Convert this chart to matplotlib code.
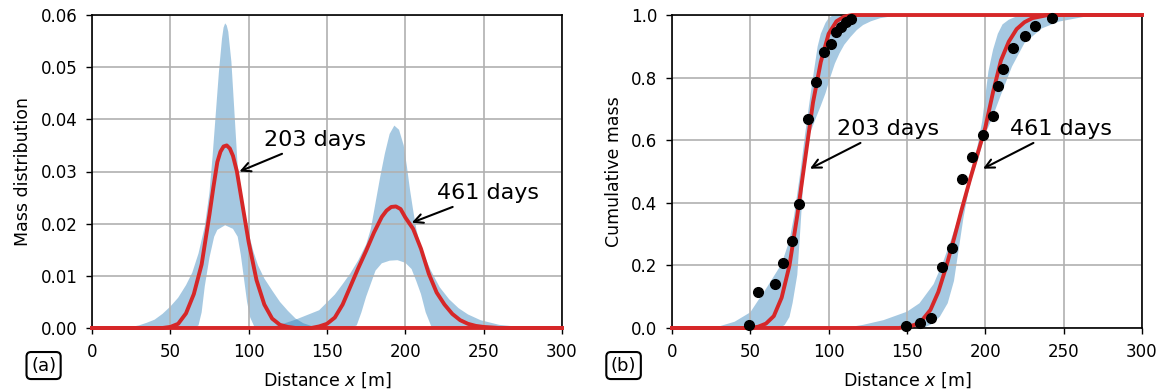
import numpy as np
import matplotlib
matplotlib.use("Agg")
import matplotlib.pyplot as plt

# (a) mass distribution, red model curves
pdf203_x = [0, 45, 50, 55, 60, 65, 70, 75, 77.5, 80, 82, 84, 86, 88, 90, 92.5, 95, 97.5, 100,
            105, 110, 115, 120, 125, 130, 300]
pdf203_y = [0, 0, 0.0002, 0.0008, 0.0028, 0.0065, 0.0122, 0.0218, 0.027, 0.0318, 0.0338, 0.0348,
            0.0350, 0.0344, 0.0330, 0.030, 0.0255, 0.021, 0.0165, 0.0092, 0.0045, 0.0018, 0.0006,
            0.0002, 0, 0]
pdf461_x = [0, 140, 145, 150, 155, 160, 165, 170, 175, 180, 185, 188, 191, 194, 197, 200, 205,
            210, 215, 220, 225, 230, 235, 240, 245, 250, 260, 300]
pdf461_y = [0, 0, 0.0003, 0.0008, 0.002, 0.0045, 0.008, 0.0115, 0.0148, 0.0183, 0.0213, 0.0225,
            0.0232, 0.0233, 0.0228, 0.0212, 0.019, 0.0152, 0.0104, 0.0068, 0.0045, 0.0027, 0.0015,
            0.0008, 0.0004, 0.0002, 0, 0]

# (a) uncertainty band edges
band203_up_x = [20, 25, 30, 35, 40, 45, 50, 55, 60, 64, 68, 72, 75, 77, 79, 81, 83, 84, 85, 86,
                87, 89, 91, 93, 95, 97, 100, 103, 106, 110, 115, 120, 125, 130, 135, 140, 145, 150]
band203_up_y = [0, 0.0002, 0.0005, 0.001, 0.0016, 0.0027, 0.0041, 0.0058, 0.0082, 0.0106, 0.0143,
                0.0195, 0.026, 0.033, 0.041, 0.049, 0.0555, 0.0576, 0.0584, 0.058, 0.0568, 0.051,
                0.041, 0.031, 0.027, 0.0228, 0.0182, 0.0147, 0.012, 0.0095, 0.0072, 0.005,
                0.0033, 0.0018, 0.0009, 0.0004, 0.0001, 0]
band203_lo_x = [65, 68, 70, 72, 75, 78, 80, 85, 90, 93, 95, 97, 99, 101, 104]
band203_lo_y = [0, 0.0005, 0.003, 0.008, 0.0135, 0.0175, 0.0188, 0.0197, 0.019, 0.0175, 0.014,
                0.0095, 0.005, 0.002, 0]
band461_up_x = [110, 115, 120, 125, 130, 135, 140, 145, 150, 155, 160, 165, 170, 175, 178, 181,
                184, 187, 190, 193, 196, 199, 201, 203, 205, 207, 209, 212, 216, 222, 228, 234,
                240, 248, 260, 273, 290]
band461_up_y = [0, 0.0002, 0.0006, 0.0011, 0.0016, 0.0022, 0.0028, 0.0034, 0.0049, 0.0064,
                0.0084, 0.0105, 0.013, 0.016, 0.019, 0.024, 0.029, 0.0335, 0.0372, 0.0388, 0.038,
                0.035, 0.031, 0.0265, 0.0226, 0.019, 0.0165, 0.014, 0.0112, 0.0078, 0.0055,
                0.0038, 0.0026, 0.0015, 0.0006, 0.0002, 0]
band461_lo_x = [165, 169, 172, 175, 178, 181, 185, 190, 195, 200, 204, 207, 210, 213, 217]
band461_lo_y = [0, 0.0005, 0.003, 0.006, 0.0085, 0.011, 0.0124, 0.0129, 0.013, 0.0125, 0.0113,
                0.009, 0.0065, 0.003, 0]

# (b) cumulative mass, red model curves
cdf203_x = [0, 50, 55, 60, 65, 70, 75, 80, 85, 90, 95, 100, 105, 110, 115, 300]
cdf203_y = [0, 0, 0.004, 0.014, 0.038, 0.097, 0.2, 0.36, 0.54, 0.72, 0.85, 0.94, 0.98, 0.995, 1, 1]
cdf461_x = [0, 145, 150, 155, 160, 165, 170, 175, 180, 185, 190, 195, 200, 205, 210, 215, 220,
            225, 230, 240, 300]
cdf461_y = [0, 0, 0.004, 0.01, 0.027, 0.058, 0.115, 0.195, 0.285, 0.38, 0.47, 0.555, 0.64, 0.755,
            0.855, 0.915, 0.955, 0.977, 0.99, 1, 1]

# (b) band edges
cband203_up_x = [20, 30, 40, 50, 55, 60, 65, 70, 75, 78, 80, 82, 85, 88, 90, 93, 95, 98, 100, 103]
cband203_up_y = [0, 0.005, 0.02, 0.05, 0.088, 0.125, 0.165, 0.205, 0.28, 0.36, 0.43, 0.5, 0.62,
                 0.73, 0.8, 0.9, 0.94, 0.975, 0.99, 1.0]
cband203_lo_x = [65, 70, 72, 75, 77, 80, 82, 84, 86, 88, 91, 95, 98, 101, 104, 107, 110, 114, 118,
                 122, 127, 133, 143, 155]
cband203_lo_y = [0, 0.003, 0.01, 0.035, 0.08, 0.17, 0.32, 0.48, 0.56, 0.62, 0.66, 0.71, 0.75, 0.8,
                 0.845, 0.878, 0.905, 0.93, 0.952, 0.968, 0.98, 0.99, 0.998, 1.0]
cband461_up_x = [110, 122, 135, 150, 158, 167, 173, 178, 182, 186, 190, 195, 198, 200, 202, 205,
                 208, 211, 215, 222]
cband461_up_y = [0, 0.01, 0.025, 0.052, 0.079, 0.14, 0.21, 0.28, 0.34, 0.41, 0.49, 0.58, 0.66,
                 0.74, 0.82, 0.89, 0.94, 0.97, 0.985, 1.0]
cband461_lo_x = [160, 165, 171, 176, 180, 183, 186, 189, 192, 196, 200, 204, 210, 217, 225, 236,
                 247, 264, 285]
cband461_lo_y = [0, 0.01, 0.036, 0.079, 0.15, 0.25, 0.35, 0.43, 0.49, 0.55, 0.62, 0.665, 0.745,
                 0.835, 0.91, 0.957, 0.979, 0.995, 1.0]

# (b) measured points
obs203_x = [49.4, 55.1, 65.7, 71.1, 76.4, 81.3, 86.8, 91.9, 97.2, 101.5, 104.5, 107.7, 110.9, 114.3]
obs203_y = [0.01, 0.115, 0.14, 0.207, 0.278, 0.395, 0.668, 0.786, 0.881, 0.906, 0.945, 0.963,
            0.977, 0.987]
obs461_x = [149.4, 158.3, 165.3, 172.1, 178.5, 185.1, 191.7, 198.3, 204.7, 208.3, 211.5, 217.5,
            225.3, 231.5, 242.4]
obs461_y = [0.0075, 0.015, 0.033, 0.194, 0.255, 0.475, 0.547, 0.616, 0.678, 0.773, 0.826, 0.894,
            0.934, 0.965, 0.99]

BLUE = "#1f77b4"
RED = "#d62728"

plt.rcParams["font.family"] = ["DejaVu Sans"]

fig = plt.figure(figsize=(11.63, 3.92), dpi=100)
axA = fig.add_axes([0.0791, 0.1633, 0.4041, 0.7984])
axB = fig.add_axes([0.5778, 0.1633, 0.4041, 0.7984])


def band(ax, ux, uy, lx, ly):
    px = np.concatenate([ux, lx[::-1]])
    py = np.concatenate([uy, ly[::-1]])
    ax.fill(px, py, color=BLUE, alpha=0.4, lw=0)


# panel (a)
band(axA, np.array(band203_up_x), np.array(band203_up_y), np.array(band203_lo_x), np.array(band203_lo_y))
band(axA, np.array(band461_up_x), np.array(band461_up_y), np.array(band461_lo_x), np.array(band461_lo_y))
axA.plot(pdf203_x, pdf203_y, color=RED, lw=2.8, clip_on=False, zorder=3, solid_joinstyle="round")
axA.plot(pdf461_x, pdf461_y, color=RED, lw=2.8, clip_on=False, zorder=3, solid_joinstyle="round")
axA.set_xlim(0, 300)
axA.set_ylim(0, 0.06)
axA.set_yticks(np.arange(0, 0.061, 0.01))
axA.set_ylabel("Mass distribution", fontsize=12.5, labelpad=6)
axA.annotate("203 days", xy=(92.5, 0.0298), xytext=(110, 0.0349), fontsize=16,
             ha="left", va="baseline",
             arrowprops=dict(arrowstyle="->", color="k", lw=1.5))
axA.annotate("461 days", xy=(202.5, 0.0200), xytext=(220.5, 0.0247), fontsize=16,
             ha="left", va="baseline",
             arrowprops=dict(arrowstyle="->", color="k", lw=1.5))

# panel (b)
band(axB, np.array(cband203_up_x), np.array(cband203_up_y), np.array(cband203_lo_x), np.array(cband203_lo_y))
band(axB, np.array(cband461_up_x), np.array(cband461_up_y), np.array(cband461_lo_x), np.array(cband461_lo_y))
axB.plot(cdf203_x, cdf203_y, color=RED, lw=2.8, clip_on=False, zorder=3, solid_joinstyle="round")
axB.plot(cdf461_x, cdf461_y, color=RED, lw=2.8, clip_on=False, zorder=3, solid_joinstyle="round")
axB.plot(obs203_x, obs203_y, "o", color="k", ms=7, zorder=4, clip_on=False)
axB.plot(obs461_x, obs461_y, "o", color="k", ms=7, zorder=4, clip_on=False)
axB.set_xlim(0, 300)
axB.set_ylim(0, 1.0)
axB.set_yticks(np.arange(0, 1.01, 0.2))
axB.set_ylabel("Cumulative mass", fontsize=12.5, labelpad=6)
axB.annotate("203 days", xy=(86.5, 0.505), xytext=(105.3, 0.617), fontsize=16,
             ha="left", va="baseline",
             arrowprops=dict(arrowstyle="->", color="k", lw=1.5))
axB.annotate("461 days", xy=(197, 0.505), xytext=(215.7, 0.617), fontsize=16,
             ha="left", va="baseline",
             arrowprops=dict(arrowstyle="->", color="k", lw=1.5))

for ax, lab in [(axA, "(a)"), (axB, "(b)")]:
    ax.set_xticks(np.arange(0, 301, 50))
    ax.set_xlabel("Distance $x$ [m]", fontsize=12.5, labelpad=7)
    ax.grid(True, color="#b0b0b0", lw=1.2)
    ax.tick_params(labelsize=12, length=4.5, width=1, pad=6)
    for s in ax.spines.values():
        s.set_linewidth(1.2)
    ax.text(-0.103, -0.12, lab, transform=ax.transAxes, fontsize=13,
            ha="center", va="center",
            bbox=dict(boxstyle="round,pad=0.25", fc="white", ec="k", lw=1.5))

fig.savefig("out.png", dpi=100)
